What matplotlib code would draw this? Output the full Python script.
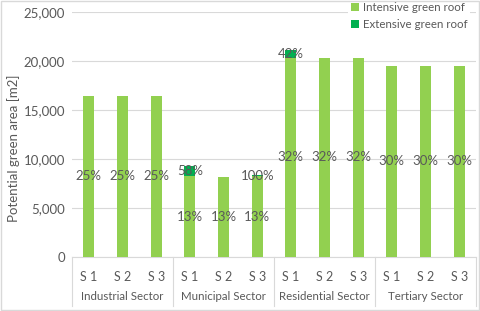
import matplotlib
matplotlib.use("Agg")
import matplotlib.pyplot as plt
from matplotlib.patches import Rectangle
from matplotlib.transforms import blended_transform_factory
import numpy as np

sectors = ["Industrial Sector", "Municipal Sector", "Residential Sector", "Tertiary Sector"]
scenarios = ["S 1", "S 2", "S 3"]
intensive = [16400, 16400, 16400, 8200, 8150, 8200, 20300, 20300, 20300, 19500, 19500, 19500]
extensive = [0, 0, 0, 1100, 0, 180, 830, 0, 0, 0, 0, 0]
intensive_lbl = ["25%", "25%", "25%", "13%", "13%", "13%", "32%", "32%", "32%", "30%", "30%", "30%"]
extensive_lbl = ["", "", "", "58%", "", "100%", "42%", "", "", "", "", ""]

C_INT = "#92D050"
C_EXT = "#00B050"
TXT = "#595959"
GRID = "#D9D9D9"

plt.rcParams["font.family"] = ["Lato", "DejaVu Sans"]

fig = plt.figure(figsize=(4.8, 3.11), dpi=100)
fig.patches.append(Rectangle((0.002, 0.003), 0.995, 0.994, transform=fig.transFigure,
                             fill=False, edgecolor="#D9D9D9", linewidth=1))
ax = fig.add_axes([0.15, 0.1746, 0.8417, 0.7864])

x = np.arange(len(intensive))
w = 0.32
ax.bar(x, intensive, w, color=C_INT, label="Intensive green roof", zorder=3)
ax.bar(x, extensive, w, bottom=intensive, color=C_EXT, label="Extensive green roof", zorder=3)

# data labels centred in each segment
for i in range(len(x)):
    ax.text(x[i], intensive[i] / 2, intensive_lbl[i], ha="center", va="center",
            fontsize=9.5, color=TXT, zorder=4)
    if extensive_lbl[i]:
        ax.text(x[i], intensive[i] + extensive[i] / 2, extensive_lbl[i], ha="center",
                va="center", fontsize=9.5, color=TXT, zorder=4)

ax.set_xlim(-0.5, len(x) - 0.5)
ax.set_ylim(0, 25000)
ax.set_yticks(np.arange(0, 25001, 5000))
ax.set_yticklabels([f"{v:,}" for v in range(0, 25001, 5000)])
ax.yaxis.grid(True, color=GRID, linewidth=0.8, zorder=0)
ax.tick_params(axis="y", length=0, labelsize=9.5, colors=TXT, pad=5)
ax.set_ylabel("Potential green area [m2]", fontsize=9.5, color=TXT)
ax.yaxis.set_label_coords(-0.128, 0.445)

for s in ["top", "right", "left"]:
    ax.spines[s].set_visible(False)
ax.spines["bottom"].set_color(GRID)

ax.set_xticks(x)
ax.set_xticklabels(scenarios * len(sectors))
ax.tick_params(axis="x", length=0, labelsize=9, colors=TXT, pad=10)

# two-level category axis: separators + sector names
tr = blended_transform_factory(ax.transData, ax.transAxes)
for k in range(len(sectors) + 1):
    xb = k * 3 - 0.5
    ax.plot([xb, xb], [0, -0.2], transform=tr, color=GRID, linewidth=0.8, clip_on=False)
for k, name in enumerate(sectors):
    ax.text(k * 3 + 1, -0.163, name, transform=tr, ha="center", va="center",
            fontsize=8.3, color=TXT)

leg = ax.legend(loc="upper right", bbox_to_anchor=(1.0, 1.075), frameon=True, fontsize=8.3,
                handlelength=0.7, handleheight=0.7, handletextpad=0.4, labelspacing=0.55,
                borderpad=0.2, labelcolor=TXT)
leg.get_frame().set_edgecolor("none")
leg.get_frame().set_facecolor("white")
leg.get_frame().set_alpha(1)

fig.savefig("out.png", dpi=100)
